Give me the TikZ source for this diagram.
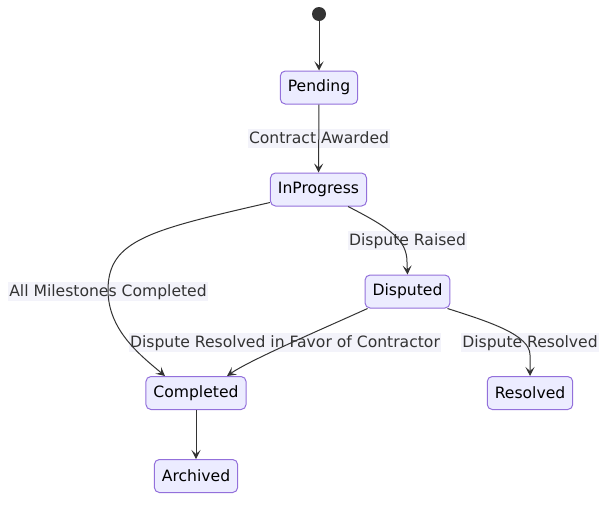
\documentclass[tikz,border=0pt]{standalone}
\usepackage{fontspec}
\setmainfont{DejaVu Sans}
\usetikzlibrary{arrows.meta}
\definecolor{nodefill}{HTML}{ECECFF}
\definecolor{nodeline}{HTML}{9370DB}
\definecolor{ink}{HTML}{333333}
\definecolor{lblbg}{HTML}{F3F3FA}
\tikzset{
  state/.style={draw=nodeline, fill=nodefill, line width=1pt, rounded corners=5pt,
    minimum height=33pt, inner xsep=7.5pt, inner ysep=0pt, text=black,
    font=\fontsize{15.6}{18}\selectfont},
  lbl/.style={fill=lblbg, text=ink, inner xsep=1pt, inner ysep=2pt,
    font=\fontsize{15.6}{18}\selectfont, text height=12.5pt, text depth=2.5pt},
  edge/.style={draw=ink, line width=1pt, -{Stealth[length=9pt,width=9pt,inset=4pt]}},
}
\begin{document}
\begin{tikzpicture}[x=1pt,y=-1pt]
\useasboundingbox (0,0) rectangle (615,507);
\node[circle, fill=ink, minimum size=14pt, inner sep=0pt] (st) at (319,14) {};
\node[state] (pd) at (319,87.5) {Pending};
\node[state] (ip) at (318.5,189.5) {InProgress};
\node[state] (ds) at (407.5,291.5) {Disputed};
\node[state] (cp) at (196,393) {Completed};
\node[state] (rs) at (530,393) {Resolved};
\node[state] (ar) at (196,476) {Archived};

\node[lbl] (l1) at (319,138.5) {Contract Awarded};
\node[lbl] (l2) at (407.5,240.5) {Dispute Raised};
\node[lbl] (l3) at (108,291.5) {All Milestones Completed};
\node[lbl] (l4) at (285,342.5) {Dispute Resolved in Favor of Contractor};
\node[lbl] (l5) at (530,342.5) {Dispute Resolved};

\draw[edge] (st) -- (pd);
\draw[edge] (pd) -- (ip);
\draw[edge] (cp) -- (ar);
\draw[edge] ([xshift=-19pt]ip.south east) .. controls (390,228) and (407,240) .. (407,262) -- (ds.north);
\draw[edge] ([yshift=4pt]ip.south west) .. controls (150,230) and (108,240) .. (108,290)
   .. controls (108,330) and (140,355) .. ([xshift=-31pt]cp.north);
\draw[edge] ([xshift=3pt]ds.south west) .. controls (320,330) and (250,360) .. ([xshift=31pt]cp.north);
\draw[edge] ([xshift=-3pt]ds.south east) .. controls (490,322) and (530,335) .. (530,355) -- (rs.north);
\end{tikzpicture}
\end{document}
